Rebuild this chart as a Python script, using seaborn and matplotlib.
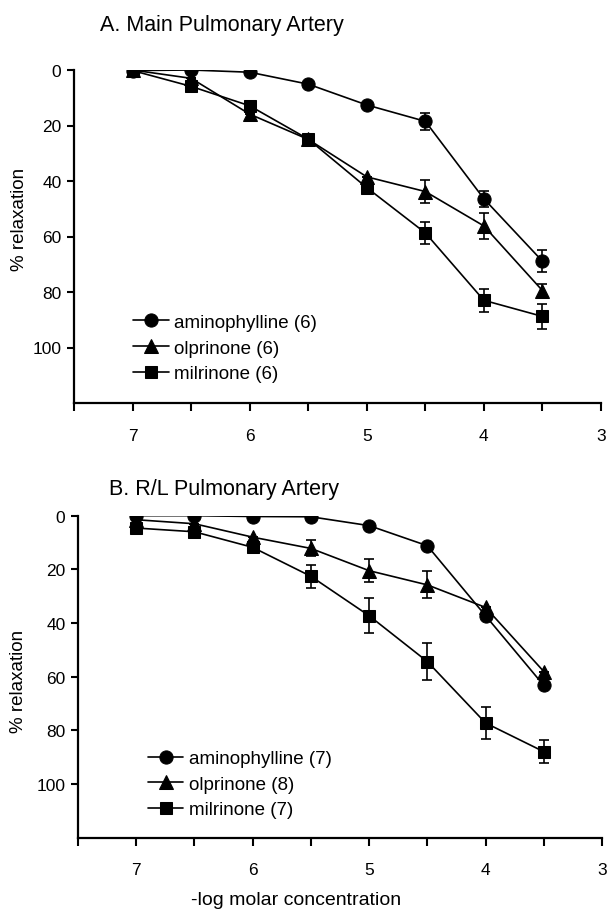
import numpy as np
import pandas as pd
import matplotlib
matplotlib.use("Agg")
import matplotlib.pyplot as plt
import seaborn as sns

# -log molar concentration of each drug step
conc = [7.0, 6.5, 6.0, 5.5, 5.0, 4.5, 4.0, 3.5]

# A. Main pulmonary artery: mean % relaxation and SEM
main_amino = [0.2, 0.0, 0.8, 5.1, 12.6, 18.5, 46.4, 68.9]
main_amino_sem = [0, 0, 0, 0, 0, 3.0, 2.9, 4.0]
main_olp = [0.0, 3.0, 15.9, 25.0, 38.5, 43.8, 56.2, 79.5]
main_olp_sem = [0, 0, 0, 0, 0, 4.3, 4.8, 2.4]
main_mil = [0.2, 5.9, 12.9, 24.9, 42.4, 58.7, 83.0, 88.8]
main_mil_sem = [0, 0, 0, 0, 0, 4.1, 4.2, 4.6]

# B. R/L pulmonary artery: mean % relaxation and SEM
rl_amino = [0.0, 0.0, 0.3, 0.4, 3.7, 11.2, 37.3, 63.3]
rl_amino_sem = [0, 0, 0, 0, 0, 0, 0, 0]
rl_olp = [1.5, 3.0, 8.0, 12.2, 20.5, 25.8, 34.2, 58.1]
rl_olp_sem = [0, 0, 0, 3.0, 4.3, 5.0, 0, 0]
rl_mil = [4.6, 6.0, 11.8, 22.6, 37.3, 54.4, 77.3, 88.0]
rl_mil_sem = [0, 0, 0, 4.4, 6.6, 6.8, 5.8, 4.2]

drugs = ["aminophylline", "olprinone", "milrinone"]
markers = ["o", "^", "s"]
main_n = [6, 6, 6]
rl_n = [7, 8, 7]

x_major = [7, 6, 5, 4, 3]
x_all = [7.5, 7, 6.5, 6, 5.5, 5, 4.5, 4, 3.5, 3]
y_ticks = [0, 20, 40, 60, 80, 100]

sns.set_style("ticks", {"text.color": "black", "axes.labelcolor": "black",
                        "xtick.color": "black", "ytick.color": "black",
                        "axes.edgecolor": "black"})
plain = ["Liberation Sans", "DejaVu Sans"]
plt.rcParams["font.family"] = plain

fig = plt.figure(figsize=(6.09, 9.12), dpi=100)
ax_a = fig.add_axes([74 / 609, 1 - 404 / 912, 527 / 609, 333 / 912])
ax_b = fig.add_axes([78 / 609, 1 - 838.5 / 912, 524 / 609, 321.8 / 912])


def draw_panel(ax, series, sems, ns, legend_anchor, ylabel_xy):
    for name, mk, vals, err, n in zip(drugs, markers, series, sems, ns):
        df = pd.DataFrame({"conc": conc, "relax": vals, "sem": err})
        ax.errorbar(df["conc"], df["relax"], yerr=df["sem"], fmt="none",
                    ecolor="black", elinewidth=1.2, capsize=3.5,
                    capthick=1.2, zorder=2)
        sns.lineplot(data=df, x="conc", y="relax", ax=ax, color="black",
                     marker=mk, markersize=9.5 if mk != "s" else 9,
                     markeredgecolor="black", markerfacecolor="black",
                     linewidth=1.2, label=f"{name} ({n})", zorder=3,
                     errorbar=None)
    ax.set_xlim(7.5, 3)
    ax.set_ylim(120, 0)
    ax.set_xticks(x_all)
    ax.set_xticklabels([str(int(v)) if v in x_major else "" for v in x_all])
    ax.set_yticks(y_ticks)
    ax.set_yticklabels([str(v) for v in y_ticks])
    for lab in ax.get_xticklabels() + ax.get_yticklabels():
        lab.set_fontsize(12.5)
        lab.set_color("black")
    ax.tick_params(axis="x", direction="out", length=6, width=1.5, pad=12,
                   color="black")
    ax.tick_params(axis="y", direction="out", length=5, width=1.5, pad=4,
                   color="black")
    for side in ["top", "right"]:
        ax.spines[side].set_visible(False)
    for side in ["left", "bottom"]:
        ax.spines[side].set_linewidth(1.6)
        ax.spines[side].set_color("black")
    ax.set_xlabel("")
    ax.set_ylabel("% relaxation", fontsize=13.5, color="black")
    ax.yaxis.set_label_coords(*ylabel_xy)
    leg = ax.legend(loc="center left", bbox_to_anchor=legend_anchor,
                    frameon=False, borderpad=0, borderaxespad=0,
                    handlelength=1.9, handletextpad=0.3, labelspacing=0.45,
                    prop={"size": 13.5}, labelcolor="black")
    return leg


draw_panel(ax_a, [main_amino, main_olp, main_mil],
           [main_amino_sem, main_olp_sem, main_mil_sem], main_n,
           (0.112, 0.165), (-0.088, 0.553))
draw_panel(ax_b, [rl_amino, rl_olp, rl_mil],
           [rl_amino_sem, rl_olp_sem, rl_mil_sem], rl_n,
           (0.133, 0.166), (-0.097, 0.487))

fig.text(100 / 609, 1 - 25 / 912, "A. Main Pulmonary Artery",
         fontsize=15.5, ha="left", va="center", color="black")
fig.text(109 / 609, 1 - 490 / 912, "B. R/L Pulmonary Artery",
         fontsize=15.5, ha="left", va="center", color="black")
fig.text(296 / 609, 1 - 901 / 912, "-log molar concentration",
         fontsize=14, ha="center", va="center", color="black")

fig.savefig("out.png", dpi=100)
